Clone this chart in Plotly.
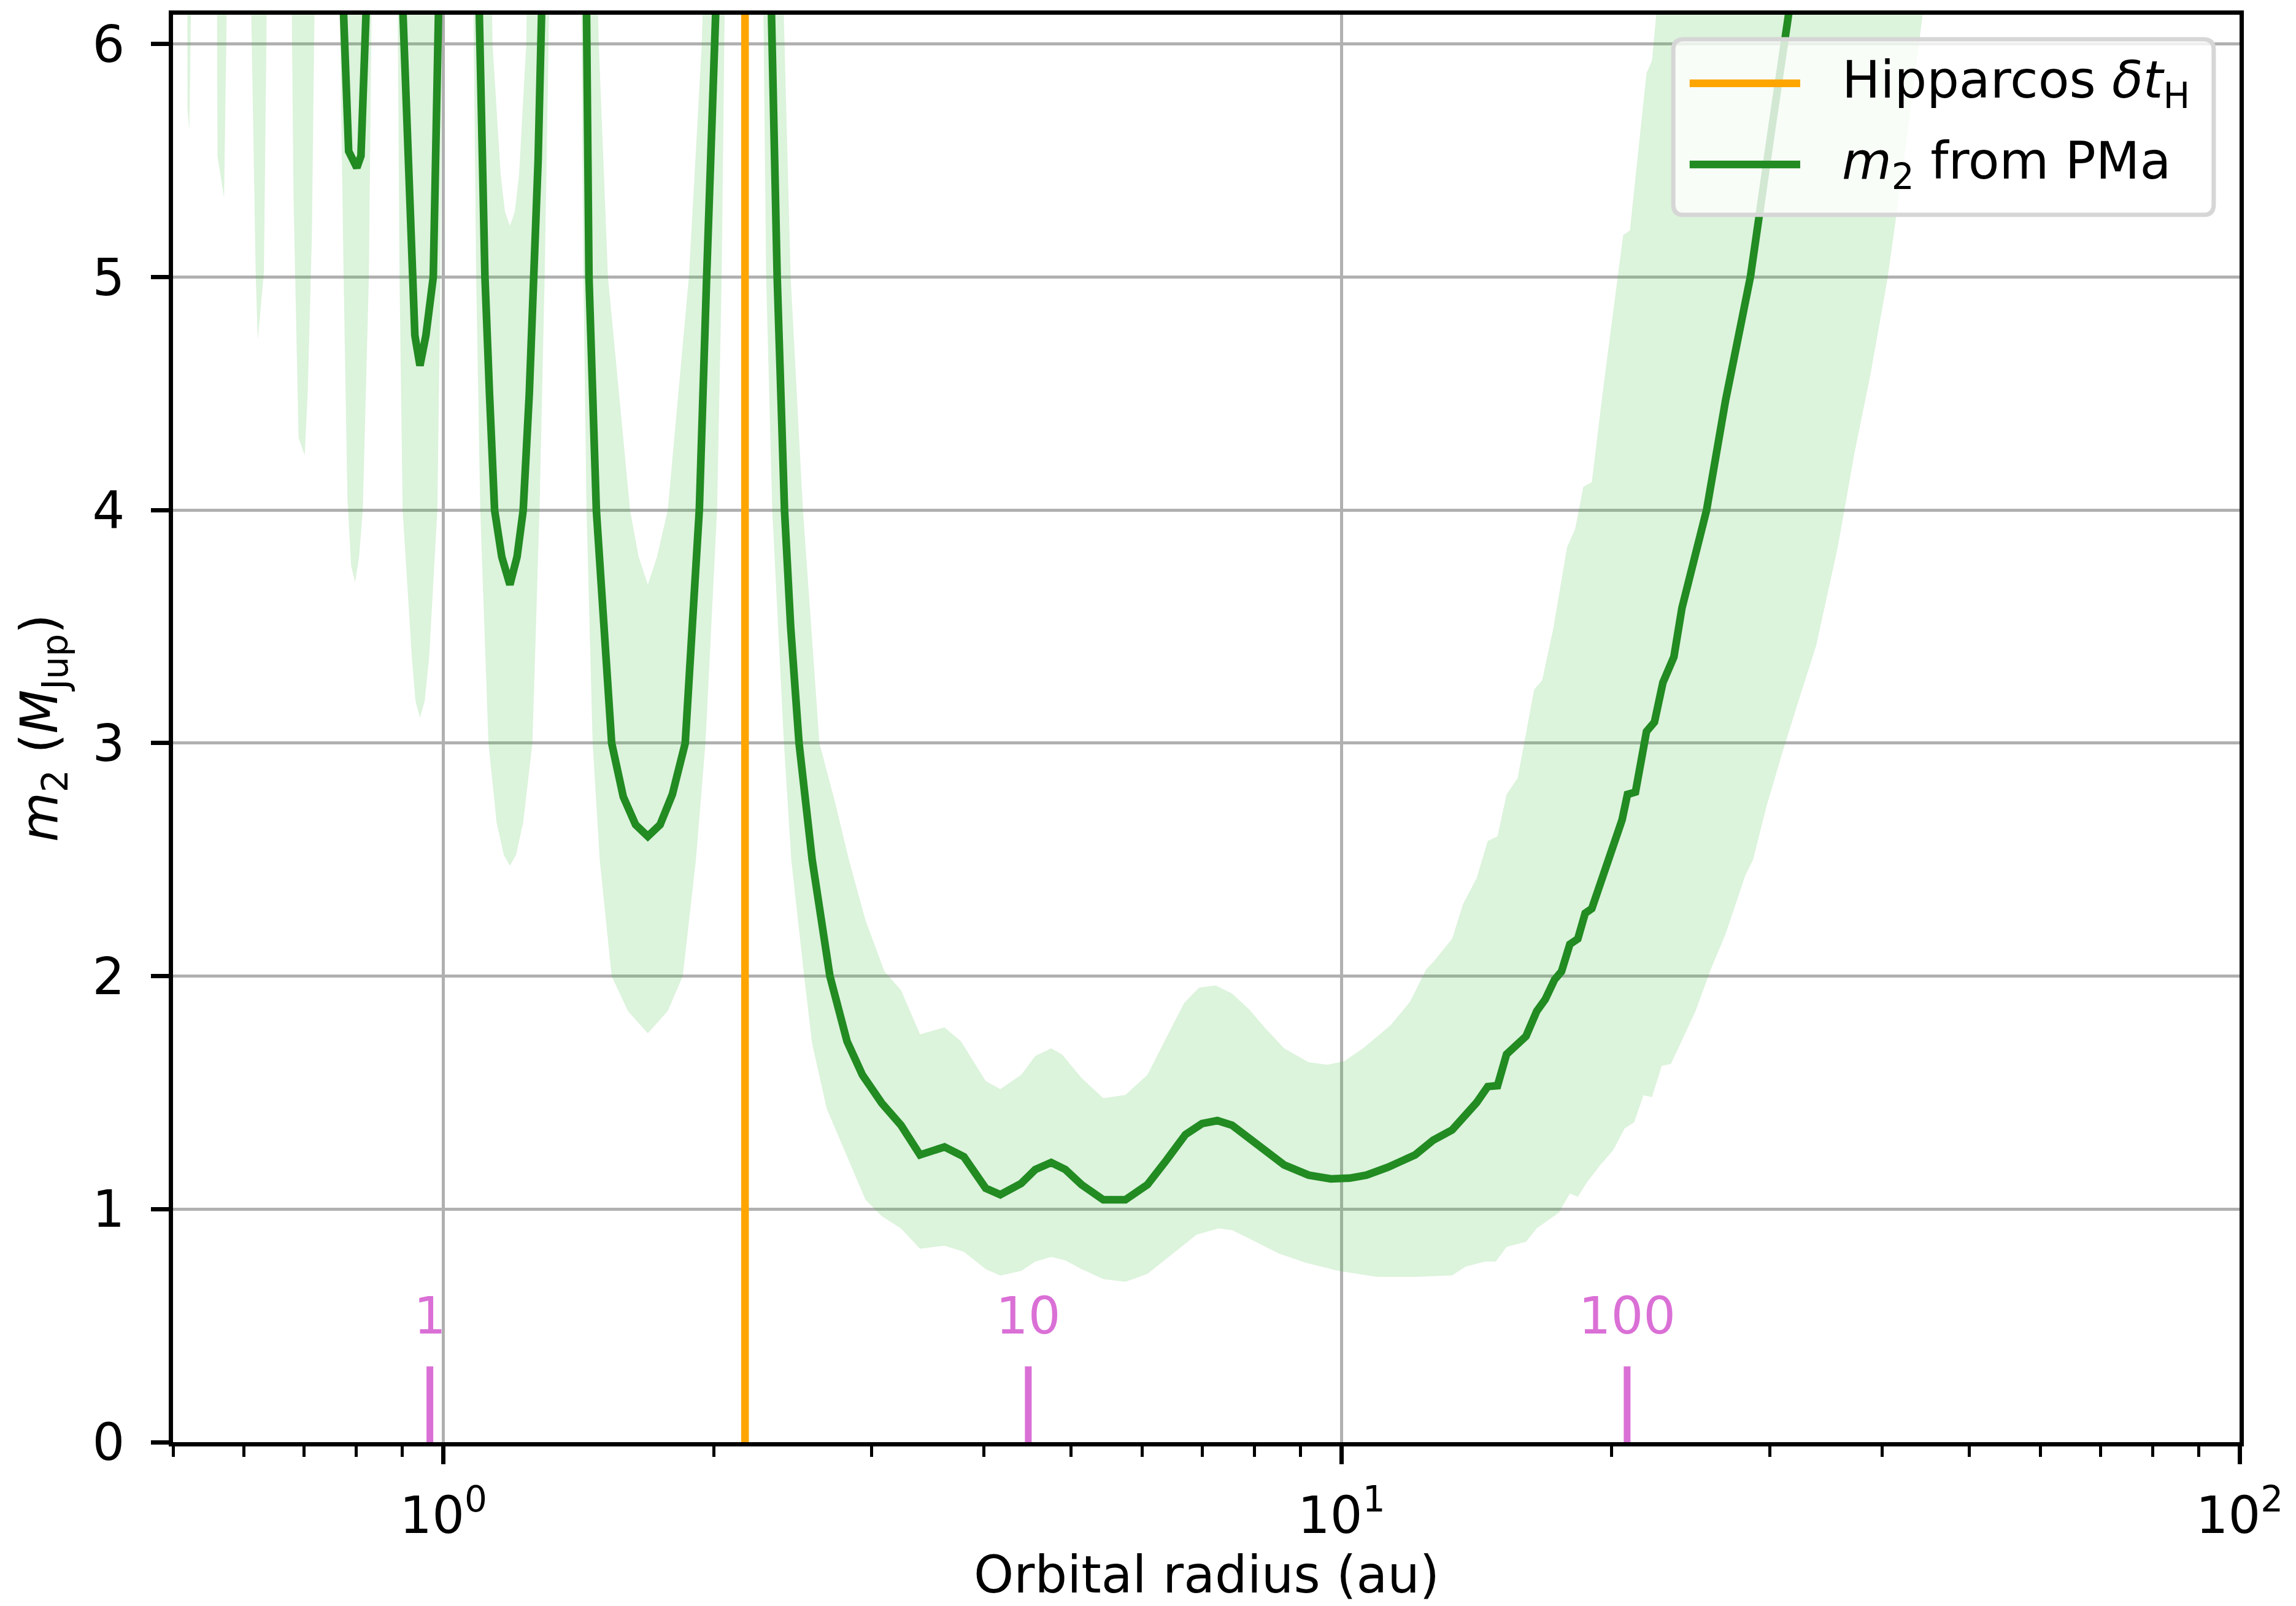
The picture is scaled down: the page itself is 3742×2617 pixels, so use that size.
import plotly.graph_objects as go
import math

# ---------------- data (orbital radius in au, companion mass in M_Jup) ----------------
# central m2 curve ("m2 from PMa"); values of 7.0 mark where the curve leaves the top of the plot
a_m2 = [0.5, 0.7596, 0.7742, 0.7844, 0.801, 0.8095, 0.8201, 0.8353,
        0.8845, 0.9008, 0.9223, 0.9295, 0.9417, 0.9562, 0.9744, 0.9872, 0.9977,
        1.0843, 1.0963, 1.1049, 1.1125, 1.1255, 1.1403, 1.1614, 1.186, 1.208, 1.2271, 1.2464,
        1.263, 1.2749, 1.2863, 1.3047,
        1.4366, 1.4434, 1.4525, 1.4802, 1.5061, 1.5395, 1.586, 1.6368, 1.689, 1.743, 1.7987,
        1.859, 1.8928, 1.9274, 1.964, 2.014, 2.046,
        2.293, 2.319, 2.3533, 2.398, 2.436, 2.489, 2.574, 2.694, 2.815, 2.928, 3.077, 3.2326,
        3.394, 3.614, 3.798, 4.016, 4.17, 4.399, 4.561, 4.751, 4.926, 5.135, 5.43, 5.746,
        6.081, 6.3845, 6.703, 6.994, 7.274, 7.554, 7.881, 8.275, 8.633, 9.193, 9.729, 10.21,
        10.66, 11.27, 12.08, 12.65, 13.28, 14.14, 14.55, 14.92, 15.27, 16.05, 16.50, 16.86,
        17.27, 17.58, 17.96, 18.33, 18.68, 19.00, 19.67, 20.24, 20.53, 20.82, 21.25, 21.86,
        22.31, 22.80, 23.45, 23.94, 25.50, 26.77, 28.53, 30.17, 31.47, 33.99]
m2 = [7.0, 7.0, 6.13, 5.54, 5.47, 5.52, 6.13, 7.0,
      7.0, 6.13, 5.0, 4.75, 4.62, 4.75, 5.0, 6.13, 7.0,
      7.0, 6.13, 5.5, 5.0, 4.5, 4.0, 3.8, 3.68, 3.8, 4.0, 4.5,
      5.0, 5.5, 6.13, 7.0,
      7.0, 6.13, 5.0, 4.0, 3.5, 3.0, 2.77, 2.65, 2.60, 2.65, 2.78,
      3.0, 3.5, 4.0, 5.0, 6.13, 7.0,
      7.0, 6.13, 5.0, 4.0, 3.5, 3.0, 2.5, 2.0, 1.72, 1.576, 1.455, 1.36,
      1.233, 1.267, 1.225, 1.09, 1.062, 1.11, 1.17, 1.20, 1.17, 1.105, 1.04, 1.04,
      1.105, 1.21, 1.32, 1.367, 1.38, 1.36, 1.307, 1.24, 1.19, 1.146, 1.13, 1.133,
      1.146, 1.18, 1.233, 1.296, 1.34, 1.457, 1.526, 1.53, 1.665, 1.742, 1.85, 1.90,
      1.985, 2.02, 2.137, 2.16, 2.27, 2.29, 2.46, 2.58, 2.67, 2.78, 2.79, 3.05,
      3.09, 3.26, 3.37, 3.58, 4.0, 4.47, 5.0, 5.65, 6.13, 7.0]

# lower edge of the uncertainty band (6.3 = above the plotted range)
a_low = [0.5, 0.5186, 0.5190, 0.5213, 0.5242,
         0.5595, 0.5604, 0.5699, 0.5746,
         0.6100, 0.618, 0.6213, 0.6312, 0.6364,
         0.6774, 0.6809, 0.6899, 0.7008, 0.7063, 0.7138, 0.7194,
         0.7655, 0.7742, 0.7819, 0.7894, 0.7975, 0.8057, 0.8133, 0.8261, 0.8326,
         0.8889, 0.8937, 0.9008, 0.9223, 0.931, 0.9417, 0.9532, 0.9642, 0.9847, 0.9925, 0.9977,
         1.0792, 1.0877, 1.0992, 1.1225, 1.1462, 1.1675, 1.186, 1.2047, 1.2271, 1.2564, 1.2795,
         1.2965, 1.3135,
         1.4231, 1.432, 1.4434, 1.4663, 1.493, 1.5395, 1.605, 1.689, 1.7776, 1.8474, 1.9108,
         1.958, 2.0172, 2.0412, 2.059,
         2.2697, 2.2876, 2.3238, 2.3944, 2.4398, 2.5218, 2.574, 2.6727, 2.9511, 3.077, 3.2326,
         3.394, 3.614, 3.798, 4.016, 4.17, 4.399, 4.561, 4.751, 4.926, 5.135, 5.43, 5.746,
         6.081, 6.425, 6.8955, 7.297, 7.554, 7.931, 8.512, 9.13, 9.93, 10.96, 12.08, 13.28,
         13.75, 14.44, 14.85, 15.27, 16.05, 16.50, 17.46, 17.96, 18.33, 18.74, 19.40, 20.08,
         20.66, 21.18, 21.69, 22.17, 22.73, 23.27, 23.77, 24.79, 25.78, 26.77, 28.15, 28.73,
         29.74, 31.03, 32.15, 33.78, 35.69, 37.24, 38.85, 40.54, 42.27, 44.97, 100.0]
m2_low = [6.3, 6.3, 5.72, 5.63, 6.3,
          6.3, 5.52, 5.34, 6.3,
          6.3, 5.02, 4.73, 5.02, 6.3,
          6.3, 5.35, 4.31, 4.235, 4.51, 5.18, 6.3,
          6.3, 5.02, 4.05, 3.76, 3.69, 3.8, 4.0, 5.0, 6.3,
          6.3, 5.0, 4.0, 3.37, 3.18, 3.11, 3.18, 3.37, 4.0, 5.0, 6.3,
          6.3, 5.0, 4.0, 3.0, 2.66, 2.52, 2.474, 2.52, 2.66, 3.0, 4.0,
          5.0, 6.3,
          6.3, 5.0, 4.0, 3.0, 2.5, 2.0, 1.85, 1.755, 1.85, 2.0, 2.5,
          3.0, 4.0, 5.0, 6.3,
          6.3, 5.0, 4.0, 3.0, 2.5, 2.0, 1.71, 1.43, 1.04, 0.97, 0.917,
          0.83, 0.843, 0.817, 0.743, 0.715, 0.735, 0.775, 0.795, 0.78, 0.743, 0.70, 0.688,
          0.722, 0.795, 0.89, 0.917, 0.91, 0.87, 0.81, 0.77, 0.735, 0.709, 0.709, 0.716,
          0.753, 0.775, 0.775, 0.838, 0.86, 0.918, 0.985, 1.067, 1.053, 1.112, 1.187, 1.254,
          1.346, 1.373, 1.489, 1.481, 1.615, 1.623, 1.70, 1.85, 2.03, 2.18, 2.43, 2.50,
          2.73, 2.97, 3.16, 3.42, 3.84, 4.24, 4.59, 4.99, 5.49, 6.3, 6.3]

# upper edge of the uncertainty band (8.0 = above the plotted range)
a_high = [0.5, 1.130, 1.1313, 1.1343, 1.1583, 1.1711, 1.186, 1.2009, 1.2142, 1.2367, 1.2398, 1.241,
          1.481, 1.4825, 1.4895, 1.525, 1.6139, 1.6497, 1.689, 1.7294, 1.7776, 1.8766, 1.9396,
          1.9488, 1.950,
          2.385, 2.387, 2.436, 2.514, 2.6227, 2.728, 2.8283, 2.9511, 3.0982, 3.2326, 3.394,
          3.614, 3.771, 4.016, 4.17, 4.399, 4.561, 4.751, 4.8875, 5.135, 5.43, 5.746, 6.081,
          6.3845, 6.682, 6.939, 7.24, 7.554, 7.881, 8.223, 8.633, 9.193, 9.653, 10.07, 10.57,
          11.35, 11.92, 12.43, 12.65, 13.28, 13.66, 14.14, 14.55, 14.92, 15.27, 15.71, 16.39,
          16.73, 17.21, 17.83, 18.21, 18.59, 19.00, 19.53, 20.59, 20.95, 21.86, 22.17, 22.63,
          22.65, 100.0]
m2_high = [8.0, 8.0, 6.3, 6.0, 5.44, 5.28, 5.22, 5.28, 5.44, 6.0, 6.3, 8.0,
           8.0, 6.3, 6.0, 5.0, 4.0, 3.8, 3.68, 3.8, 4.0, 5.0, 6.0,
           6.3, 8.0,
           8.0, 6.3, 5.0, 4.0, 3.0, 2.75, 2.50, 2.24, 2.02, 1.94, 1.75,
           1.78, 1.72, 1.55, 1.515, 1.576, 1.657, 1.69, 1.663, 1.563, 1.476, 1.49, 1.576,
           1.737, 1.885, 1.95, 1.96, 1.925, 1.86, 1.777, 1.69, 1.63, 1.62, 1.635, 1.69,
           1.79, 1.89, 2.03, 2.06, 2.16, 2.31, 2.42, 2.58, 2.60, 2.78, 2.85, 3.23,
           3.27, 3.49, 3.84, 3.92, 4.10, 4.12, 4.50, 5.18, 5.20, 5.875, 5.93, 6.3,
           8.0, 8.0]

# Hipparcos time baseline expressed as an orbital radius (au)
a_hip = 2.167
# orbital periods (yr) marked along the bottom, and their orbital radii (au)
period_labels = ["1", "10", "100"]
period_a = [0.966, 4.48, 20.8]
period_tick_top = 0.325
period_label_y = 0.52

x_range_au = [0.5, 100.0]
y_range = [0.0, 6.126]
y_ticks = [0, 1, 2, 3, 4, 5, 6]
x_ticks = [1, 10, 100]
x_ticktext = ["10<sup>0</sup>", "10<sup>1</sup>", "10<sup>2</sup>"]
x_minor = [0.5, 0.6, 0.7, 0.8, 0.9, 2, 3, 4, 5, 6, 7, 8, 9, 20, 30, 40, 50, 60, 70, 80, 90]

# ---------------- styling ----------------
FONT = "DejaVu Sans"
FS = 83
GREEN = "#228B22"
ORANGE = "#FFA500"
ORCHID = "#DA70D6"
BAND = "rgba(60,190,60,0.18)"
GRID = "#b0b0b0"
LW = 12.5

fig = go.Figure()

# uncertainty band as a closed polygon: lower edge, then upper edge reversed
fig.add_trace(go.Scatter(
    x=a_low + a_high[::-1], y=m2_low + m2_high[::-1],
    mode="lines", fill="toself", fillcolor=BAND, line=dict(width=0),
    hoverinfo="skip", showlegend=False))

fig.add_trace(go.Scatter(
    x=[a_hip, a_hip], y=[y_range[0], y_range[1]], mode="lines",
    line=dict(color=ORANGE, width=LW), showlegend=False))

fig.add_trace(go.Scatter(
    x=a_m2, y=m2, mode="lines",
    line=dict(color=GREEN, width=LW), showlegend=False))

# period tick marks
px, py = [], []
for a in period_a:
    px += [a, a, None]
    py += [0, period_tick_top, None]
fig.add_trace(go.Scatter(x=px, y=py, mode="lines",
                         line=dict(color=ORCHID, width=11), showlegend=False))
fig.add_trace(go.Scatter(
    x=period_a, y=[period_label_y] * len(period_a), mode="text",
    text=period_labels, textposition="middle center",
    textfont=dict(family=FONT, size=FS, color=ORCHID), showlegend=False))

axis_common = dict(
    showline=True, linecolor="black", linewidth=7, mirror=True,
    ticks="outside", ticklen=29, tickwidth=7, tickcolor="black",
    showgrid=True, gridcolor=GRID, gridwidth=5, zeroline=False,
    tickfont=dict(family=FONT, size=FS, color="black"),
)

fig.update_xaxes(
    type="log", range=[math.log10(x_range_au[0]), math.log10(x_range_au[1])],
    tickmode="array", tickvals=x_ticks, ticktext=x_ticktext,
    minor=dict(tickmode="array", tickvals=x_minor, ticks="outside", ticklen=17,
               tickwidth=5, tickcolor="black", showgrid=False),
    ticklabelstandoff=12,
    **axis_common)
fig.update_yaxes(
    range=y_range, tickmode="array", tickvals=y_ticks,
    ticklabelstandoff=26,
    **axis_common)

# legend drawn by hand (matplotlib style)
x0, x1, y0, y1 = 0.7260, 0.9875, 0.8598, 0.9828
rx, ry = 0.005, 0.0073
path = (f"M {x0+rx},{y0} L {x1-rx},{y0} Q {x1},{y0} {x1},{y0+ry} "
        f"L {x1},{y1-ry} Q {x1},{y1} {x1-rx},{y1} L {x0+rx},{y1} "
        f"Q {x0},{y1} {x0},{y1-ry} L {x0},{y0+ry} Q {x0},{y0} {x0+rx},{y0} Z")
shapes = [
    dict(type="path", xref="paper", yref="paper", path=path,
         fillcolor="rgba(255,255,255,0.8)", line=dict(color="#d6d6d6", width=7),
         layer="above"),
    dict(type="line", xref="paper", yref="paper", x0=0.7339, x1=0.7874, y0=0.9520, y1=0.9520,
         line=dict(color=ORANGE, width=LW), layer="above"),
    dict(type="line", xref="paper", yref="paper", x0=0.7339, x1=0.7874, y0=0.8951, y1=0.8951,
         line=dict(color=GREEN, width=LW), layer="above"),
]
annotations = [
    dict(xref="paper", yref="paper", x=0.8070, y=0.9520, xanchor="left", yanchor="middle",
         text="Hipparcos <i>δt</i><sub>H</sub>", showarrow=False,
         font=dict(family=FONT, size=FS, color="black")),
    dict(xref="paper", yref="paper", x=0.8070, y=0.8951, xanchor="left", yanchor="middle",
         text="<i>m</i><sub>2</sub> from PMa", showarrow=False,
         font=dict(family=FONT, size=FS, color="black")),
    dict(xref="paper", yref="paper", x=0.5, y=0, xanchor="center", yanchor="middle",
         yshift=-216, text="Orbital radius (au)", showarrow=False,
         font=dict(family=FONT, size=FS, color="black")),
    dict(xref="paper", yref="paper", x=0, y=0.5, xanchor="center", yanchor="middle",
         xshift=-212, textangle=-90, text="<i>m</i><sub>2</sub> (<i>M</i><sub>Jup</sub>)",
         showarrow=False, font=dict(family=FONT, size=FS, color="black")),
]

fig.update_layout(
    width=3742, height=2617,
    margin=dict(l=282, r=92, t=24, b=267),
    paper_bgcolor="white", plot_bgcolor="white",
    font=dict(family=FONT, size=FS, color="black"),
    showlegend=False, shapes=shapes, annotations=annotations,
)

fig.write_html("out.html")
